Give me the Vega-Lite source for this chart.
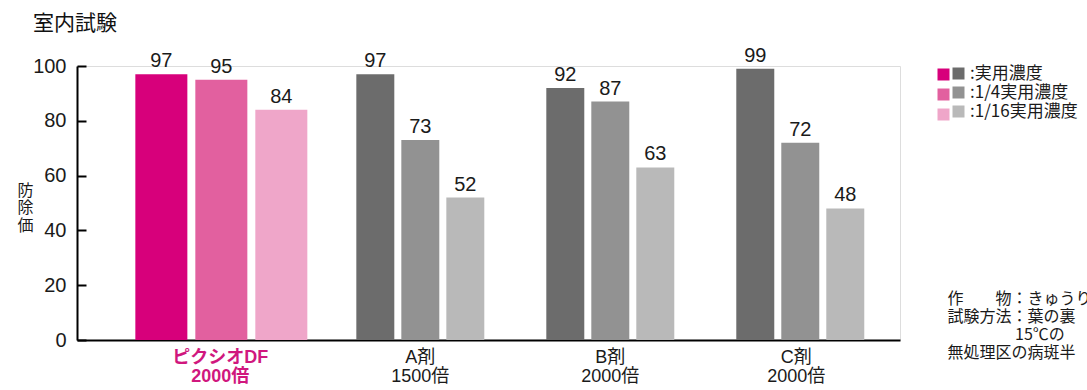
{
  "$schema": "https://vega.github.io/schema/vega-lite/v6.json",
  "width": 823,
  "height": 274,
  "autosize": {"type": "none"},
  "padding": {"left": 77, "top": 66, "right": 187, "bottom": 50},
  "background": "white",
  "title": {
    "text": "室内試験",
    "anchor": "start",
    "frame": "group",
    "font": "Noto Sans CJK JP",
    "fontSize": 21,
    "fontWeight": "normal",
    "color": "#111111",
    "dx": -44,
    "offset": 12
  },
  "data": {
    "values": [
      {"drug": "ピクシオDF|2000倍", "conc": "実用濃度", "value": 97},
      {"drug": "ピクシオDF|2000倍", "conc": "1/4実用濃度", "value": 95},
      {"drug": "ピクシオDF|2000倍", "conc": "1/16実用濃度", "value": 84},
      {"drug": "A剤|1500倍", "conc": "実用濃度", "value": 97},
      {"drug": "A剤|1500倍", "conc": "1/4実用濃度", "value": 73},
      {"drug": "A剤|1500倍", "conc": "1/16実用濃度", "value": 52},
      {"drug": "B剤|2000倍", "conc": "実用濃度", "value": 92},
      {"drug": "B剤|2000倍", "conc": "1/4実用濃度", "value": 87},
      {"drug": "B剤|2000倍", "conc": "1/16実用濃度", "value": 63},
      {"drug": "C剤|2000倍", "conc": "実用濃度", "value": 99},
      {"drug": "C剤|2000倍", "conc": "1/4実用濃度", "value": 72},
      {"drug": "C剤|2000倍", "conc": "1/16実用濃度", "value": 48}
    ]
  },
  "encoding": {
    "x": {
      "field": "drug",
      "type": "nominal",
      "scale": {
        "domain": ["ピクシオDF|2000倍", "A剤|1500倍", "B剤|2000倍", "C剤|2000倍"],
        "paddingInner": 0,
        "paddingOuter": 0.166,
        "align": 0.925
      },
      "axis": {
        "labelExpr": "split(datum.label, '|')",
        "labelAngle": 0,
        "labelFont": "Liberation Sans, Noto Sans CJK JP",
        "labelFontSize": 18,
        "labelLineHeight": 19,
        "labelPadding": 8,
        "labelOffset": {"condition": [{"test": "datum.value == 'ピクシオDF|2000倍'", "value": -10}, {"test": "datum.value == 'C剤|2000倍'", "value": -4}], "value": 0},
        "labelColor": {"condition": {"test": "datum.value == 'ピクシオDF|2000倍'", "value": "#d0177e"}, "value": "#1a1a1a"},
        "labelFontWeight": {"condition": {"test": "datum.value == 'ピクシオDF|2000倍'", "value": "bold"}, "value": "normal"},
        "ticks": false,
        "domainColor": "#000000",
        "domainWidth": 2,
        "title": ["作　　物：きゅうり", "試験方法：葉の裏", "​　　　　 15℃の", "無処理区の病斑半"],
        "titleFont": "Noto Sans CJK JP",
        "titleFontSize": 16,
        "titleFontWeight": "normal",
        "titleColor": "#1a1a1a",
        "titleLineHeight": 18,
        "titleAlign": "left",
        "titleBaseline": "top",
        "titleX": 870,
        "titleY": -50
      }
    },
    "y": {
      "field": "value",
      "type": "quantitative",
      "scale": {"domain": [0, 100], "nice": false},
      "axis": {
        "values": [0, 20, 40, 60, 80, 100],
        "grid": false,
        "tickSize": -9,
        "tickWidth": 2,
        "tickColor": "#000000",
        "domainColor": "#000000",
        "domainWidth": 2,
        "labelFont": "Liberation Sans",
        "labelFontSize": 20,
        "labelColor": "#1a1a1a",
        "labelPadding": 20,
        "title": ["防", "除", "価"],
        "titleAngle": 0,
        "titleFont": "Noto Sans CJK JP",
        "titleFontSize": 16,
        "titleFontWeight": "normal",
        "titleColor": "#1a1a1a",
        "titleLineHeight": 17.5,
        "titleAlign": "center",
        "titleBaseline": "top",
        "titleX": -52,
        "titleY": 116
      }
    }
  },
  "layer": [
    {
      "transform": [{"filter": "datum.drug == 'ピクシオDF|2000倍'"}],
      "encoding": {
        "xOffset": {
          "field": "conc",
          "type": "nominal",
          "scale": {
            "domain": ["実用濃度", "1/4実用濃度", "1/16実用濃度"],
            "paddingInner": 0.133,
            "paddingOuter": 0.15,
            "align": 0
          }
        }
      },
      "layer": [
        {
          "mark": {"type": "bar"},
          "encoding": {
            "color": {
              "field": "conc",
              "type": "nominal",
              "scale": {
                "domain": ["実用濃度", "1/4実用濃度", "1/16実用濃度"],
                "range": ["#d7007b", "#e2609f", "#efa6c9"]
              },
              "legend": {
                "orient": "none",
                "legendX": 858,
                "legendY": 0,
                "title": null,
                "symbolType": "square",
                "symbolSize": 144,
                "symbolStrokeWidth": 0,
                "labelExpr": "''",
                "labelFont": "Noto Sans CJK JP",
                "labelFontSize": 17,
                "labelOffset": 0,
                "rowPadding": 2,
                "padding": 0
              }
            }
          }
        },
        {
          "mark": {"type": "text", "baseline": "bottom", "dy": -3, "font": "Liberation Sans", "fontSize": 20, "color": "#1a1a1a"},
          "encoding": {"text": {"field": "value", "type": "quantitative"}}
        }
      ]
    },
    {
      "transform": [{"filter": "datum.drug != 'ピクシオDF|2000倍'"}],
      "encoding": {
        "xOffset": {
          "field": "conc",
          "type": "nominal",
          "scale": {
            "domain": ["実用濃度", "1/4実用濃度", "1/16実用濃度"],
            "paddingInner": 0.156,
            "paddingOuter": 0.689,
            "align": 0.5
          }
        }
      },
      "layer": [
        {
          "mark": {"type": "bar"},
          "encoding": {
            "fill": {
              "field": "conc",
              "type": "nominal",
              "sort": ["実用濃度", "1/4実用濃度", "1/16実用濃度"],
              "scale": {
                "range": ["#6c6c6c", "#929292", "#b9b9b9"]
              },
              "legend": {
                "orient": "none",
                "legendX": 873,
                "legendY": -1,
                "title": null,
                "symbolType": "square",
                "symbolSize": 144,
                "symbolStrokeWidth": 0,
                "labelExpr": "':' + datum.label",
                "labelFont": "Noto Sans CJK JP",
                "labelFontSize": 17,
                "labelColor": "#1a1a1a",
                "labelOffset": 3,
                "rowPadding": 1,
                "padding": 0
              }
            }
          }
        },
        {
          "mark": {"type": "text", "baseline": "bottom", "dy": -3, "font": "Liberation Sans", "fontSize": 20, "color": "#1a1a1a"},
          "encoding": {"text": {"field": "value", "type": "quantitative"}}
        }
      ]
    }
  ],
  "resolve": {"scale": {"xOffset": "independent"}}
}
